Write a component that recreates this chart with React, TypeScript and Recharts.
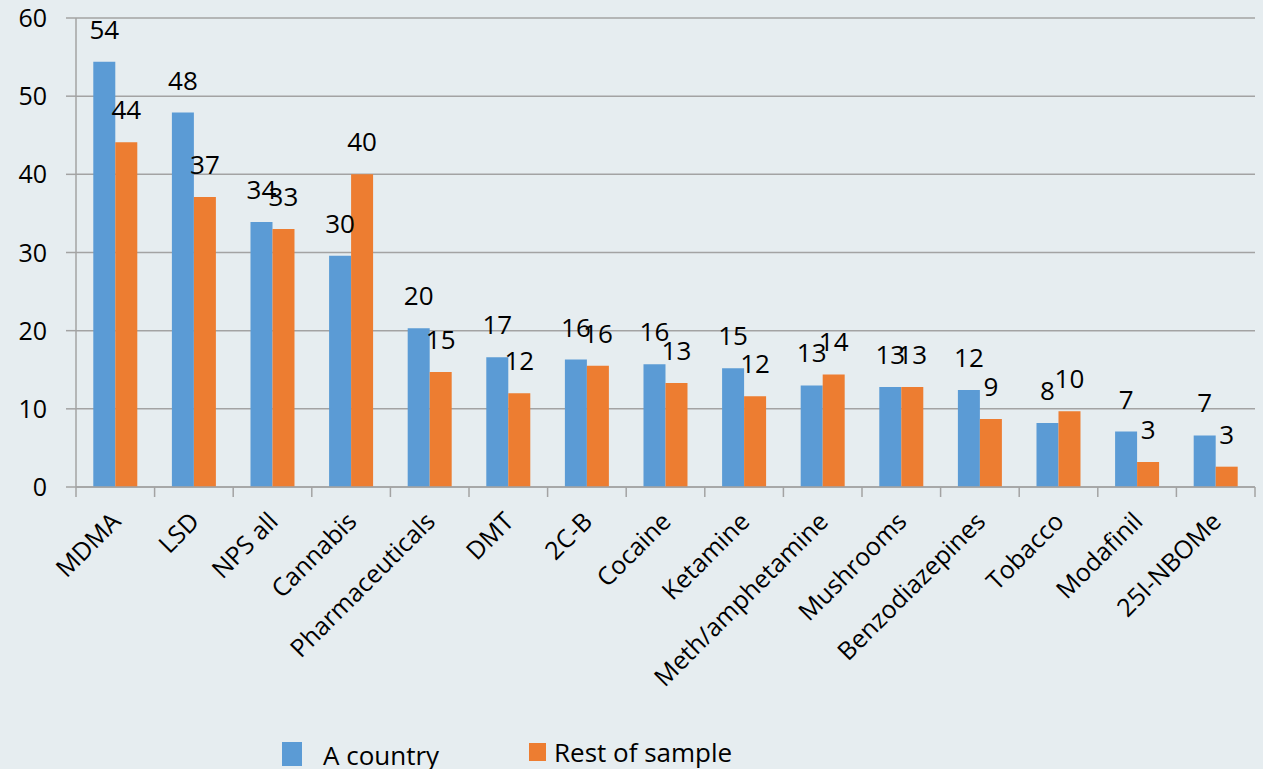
import React from 'react';
import { BarChart, Bar, XAxis, YAxis, CartesianGrid, LabelList, Legend } from 'recharts';

const categories = ['MDMA', 'LSD', 'NPS all', 'Cannabis', 'Pharmaceuticals', 'DMT', '2C-B', 'Cocaine', 'Ketamine', 'Meth/amphetamine', 'Mushrooms', 'Benzodiazepines', 'Tobacco', 'Modafinil', '25I-NBOMe'];
const aCountry = [54.4, 47.9, 33.9, 29.6, 20.3, 16.6, 16.3, 15.7, 15.2, 13.0, 12.8, 12.4, 8.2, 7.1, 6.6];
const restOfSample = [44.1, 37.1, 33.0, 40.0, 14.7, 12.0, 15.5, 13.3, 11.6, 14.4, 12.8, 8.7, 9.7, 3.2, 2.6];
const yTicks = [0, 10, 20, 30, 40, 50, 60];
const seriesNames = ['A country', 'Rest of sample'];

const data = categories.map((c, i) => ({ name: c, a: aCountry[i], r: restOfSample[i] }));

const W = 1263;
const H = 769;
const M = { top: 18, right: 8, left: 0, bottom: 0 };
const YW = 76;
const BAND = (W - M.left - M.right - YW) / categories.length;
const FONT = '"Open Sans", "DejaVu Sans", sans-serif';
const BG = '#e6edf0';
const GRID = '#a3a3a3';
const BLUE = '#5b9bd5';
const ORANGE = '#ed7d31';

const XTick = (props: any) => {
  const { x, y, payload, index } = props;
  const ax = x + 7;
  const ay = y + 36;
  return (
    <g>
      <line x1={x - BAND / 2} x2={x - BAND / 2} y1={y} y2={y + 10} stroke={GRID} strokeWidth={1.5} />
      {index === categories.length - 1 && (
        <line x1={x + BAND / 2} x2={x + BAND / 2} y1={y} y2={y + 10} stroke={GRID} strokeWidth={1.5} />
      )}
      <text x={ax} y={ay} transform={`rotate(-45, ${ax}, ${ay})`} textAnchor="end" fontSize={25} fill="#000" fontFamily={FONT}>
        {payload.value}
      </text>
    </g>
  );
};

const YTick = (props: any) => {
  const { y, payload } = props;
  return (
    <text x={47} y={y} dy="0.36em" textAnchor="end" fontSize={25} fill="#000" fontFamily={FONT}>
      {payload.value}
    </text>
  );
};

const LegendContent = () => (
  <svg width={W} height={40} style={{ display: 'block' }}>
    <rect x={282} y={13} width={20} height={24} fill={BLUE} />
    <text x={323} y={36} fontSize={26} fontFamily={FONT} fill="#000">{seriesNames[0]}</text>
    <rect x={529} y={14} width={17} height={18} fill={ORANGE} />
    <text x={554} y={33} fontSize={26} fontFamily={FONT} fill="#000">{seriesNames[1]}</text>
  </svg>
);

export default function App() {
  return (
    <div style={{ position: 'absolute', left: 0, top: 0, width: W, height: H, background: BG, fontFamily: FONT }}>
      <BarChart width={W} height={H} data={data} margin={M} barCategoryGap="22%" barGap={0}>
        <CartesianGrid vertical={false} stroke={GRID} strokeWidth={1.5} />
        <XAxis
          dataKey="name"
          interval={0}
          height={242}
          tickLine={false}
          tickSize={0}
          tickMargin={0}
          axisLine={{ stroke: GRID, strokeWidth: 1.5 }}
          tick={<XTick />}
        />
        <YAxis
          width={YW}
          domain={[0, 60]}
          ticks={yTicks}
          interval={0}
          tickSize={10}
          tickLine={{ stroke: GRID, strokeWidth: 1.5 }}
          axisLine={{ stroke: GRID, strokeWidth: 1.5 }}
          tick={<YTick />}
        />
        <Legend verticalAlign="bottom" height={40} wrapperStyle={{ left: 0, bottom: 0, width: W }} content={<LegendContent />} />
        <Bar dataKey="a" name={seriesNames[0]} fill={BLUE} isAnimationActive={false}>
          <LabelList dataKey="a" position="top" offset={23} formatter={(v: any) => Math.round(Number(v))} style={{ fontSize: 26, fill: '#000', fontFamily: FONT }} />
        </Bar>
        <Bar dataKey="r" name={seriesNames[1]} fill={ORANGE} isAnimationActive={false}>
          <LabelList dataKey="r" position="top" offset={23} formatter={(v: any) => Math.round(Number(v))} style={{ fontSize: 26, fill: '#000', fontFamily: FONT }} />
        </Bar>
      </BarChart>
    </div>
  );
}
